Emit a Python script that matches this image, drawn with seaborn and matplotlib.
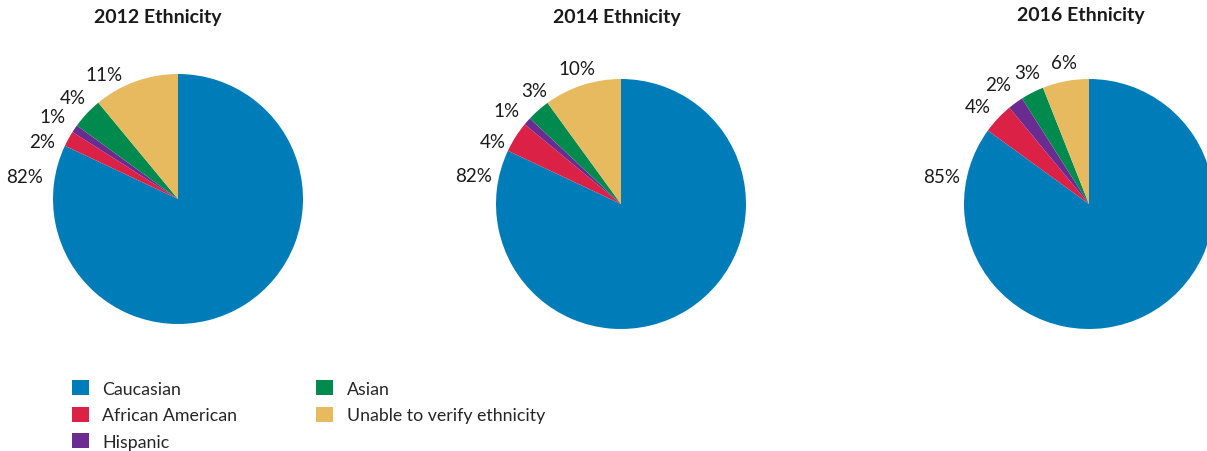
import numpy as np
import matplotlib
matplotlib.use("Agg")
import matplotlib.pyplot as plt
from matplotlib.patches import Patch
import seaborn as sns

categories = ["Caucasian", "African American", "Hispanic", "Asian", "Unable to verify ethnicity"]
years = ["2012 Ethnicity", "2014 Ethnicity", "2016 Ethnicity"]
values_2012 = [82, 2, 1, 4, 11]
values_2014 = [82, 4, 1, 3, 10]
values_2016 = [85, 4, 2, 3, 6]
colors = ["#007DB8", "#DC2146", "#6A2C91", "#008A4E", "#E8BA5F"]

sns.set_theme(style="white")
plt.rcParams["font.family"] = ["Lato", "DejaVu Sans"]

W, H = 1207, 452
fig = plt.figure(figsize=(W / 100, H / 100), dpi=100)

R = 125  # pie radius in px
centers = [(178, 200), (621, 205), (1089, 205)]
title_pos = [(158, 18), (617, 18), (1081, 15)]
all_values = [values_2012, values_2014, values_2016]
# label placement (polar, degrees / radius factor) for readability
label_angles = [[171.5, 157, 146.7, 136, 120.6],
                [169.2, 153.8, 140.8, 127.3, 108],
                [169.6, 138.8, 127.2, 115.3, 100]]
label_radii = [[1.24, 1.18, 1.20, 1.17, 1.16],
               [1.20, 1.14, 1.18, 1.14, 1.14],
               [1.20, 1.18, 1.20, 1.16, 1.15]]

for k, (vals, (cx, cy), title, (tx, ty)) in enumerate(zip(all_values, centers, years, title_pos)):
    ax = fig.add_axes([(cx - R) / W, (H - cy - R) / H, 2 * R / W, 2 * R / H])
    ax.pie(vals, colors=colors, startangle=90, counterclock=False,
           wedgeprops=dict(linewidth=0))
    ax.set_xlim(-1, 1)
    ax.set_ylim(-1, 1)
    ax.set_aspect("equal")
    ax.axis("off")
    for i, v in enumerate(vals):
        ang = np.deg2rad(label_angles[k][i])
        r = label_radii[k][i]
        ax.text(r * np.cos(ang), r * np.sin(ang), f"{v}%", ha="center", va="center",
                fontsize=13.5, color="#1a1a1a", clip_on=False)
    fig.text(tx / W, 1 - ty / H, title, ha="center", va="center",
             fontsize=14, fontweight="bold", color="#1a1a1a")

handles = [Patch(facecolor=c, edgecolor="none") for c in colors]
fig.legend(handles, categories, loc="upper left", bbox_to_anchor=(72 / W, 1 - 381 / H),
           ncol=2, frameon=False, fontsize=12.8, handlelength=0.95, handleheight=0.95,
           handletextpad=0.75, labelspacing=0.55, columnspacing=4.45, borderaxespad=0,
           borderpad=0)

fig.savefig("out.png", dpi=100)
